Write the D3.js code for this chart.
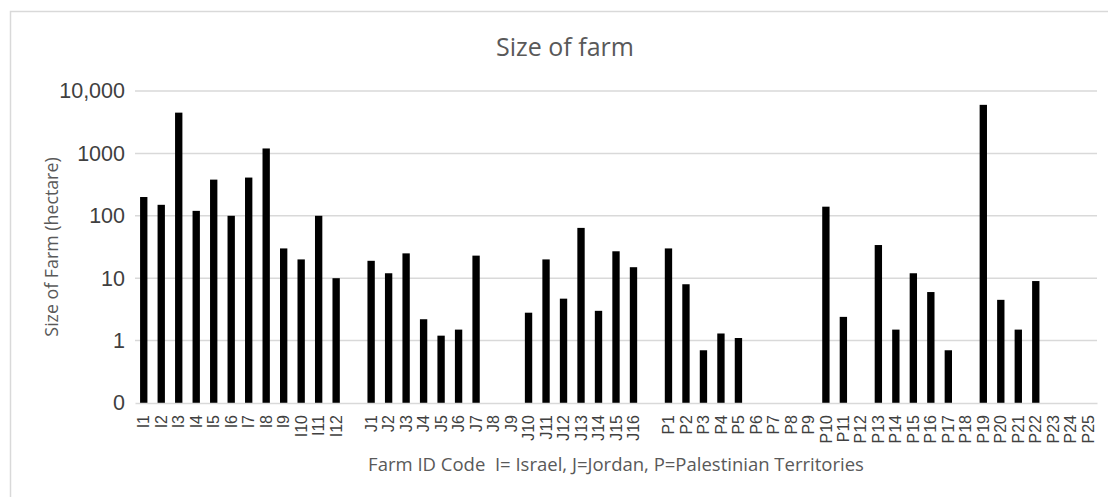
<!DOCTYPE html>
<html>
<head>
<meta charset="utf-8">
<script src="https://cdn.jsdelivr.net/npm/d3@7"></script>
<style>
  html, body { margin: 0; padding: 0; background: #fff; }
  svg { display: block; font-family: "Open Sans", "Noto Sans", sans-serif; }
</style>
</head>
<body>
<svg id="chart" width="1108" height="497"></svg>
<script>
// Farm IDs by country
const israelIds = ["I1","I2","I3","I4","I5","I6","I7","I8","I9","I10","I11","I12"];
const jordanIds = ["J1","J2","J3","J4","J5","J6","J7","J8","J9","J10","J11","J12","J13","J14","J15","J16"];
const palestineIds = ["P1","P2","P3","P4","P5","P6","P7","P8","P9","P10","P11","P12","P13","P14","P15","P16","P17","P18","P19","P20","P21","P22","P23","P24","P25"];

// Farm size in hectares (null = no value)
const israelSize = [200, 150, 4500, 120, 380, 100, 410, 1200, 30, 20, 100, 10];
const jordanSize = [19, 12, 25, 2.2, 1.2, 1.5, 23, null, null, 2.8, 20, 4.7, 64, 3, 27, 15];
const palestineSize = [30, 8, 0.7, 1.3, 1.1, null, null, null, null, 140, 2.4, null, 34, 1.5, 12, 6, 0.7, null, 6000, 4.5, 1.5, 9, null, null, null];

// Log axis ticks and their printed labels
const yTickValues = [0.1, 1, 10, 100, 1000, 10000];
const yTickLabels = ["0", "1", "10", "100", "1000", "10,000"];

const chartTitle = "Size of farm";
const xTitle = "Farm ID Code  I= Israel, J=Jordan, P=Palestinian Territories";
const yTitle = "Size of Farm (hectare)";

// Empty slots separate the country groups on the axis
const gapA = "__gapA", gapB = "__gapB";
const domain = [...israelIds, gapA, ...jordanIds, gapB, ...palestineIds];
const records = [
  ...israelIds.map((id, i) => ({ id, v: israelSize[i] })),
  ...jordanIds.map((id, i) => ({ id, v: jordanSize[i] })),
  ...palestineIds.map((id, i) => ({ id, v: palestineSize[i] }))
].filter(d => d.v != null);

const svg = d3.select("#chart");
const plot = { left: 135, right: 1097, top: 91, bottom: 403 };

// Chart frame
svg.append("rect")
  .attr("x", 10.5).attr("y", 11.5)
  .attr("width", 1200).attr("height", 600)
  .attr("fill", "none").attr("stroke", "#d9d9d9").attr("stroke-width", 1.5);

const x = d3.scaleBand().domain(domain).range([plot.left, plot.right]).paddingInner(0.58).paddingOuter(0.29);
const y = d3.scaleLog().domain([0.1, 10000]).range([plot.bottom, plot.top]);

// Gridlines
svg.append("g")
  .selectAll("line").data(yTickValues.slice(1)).join("line")
  .attr("x1", plot.left).attr("x2", plot.right)
  .attr("y1", d => y(d)).attr("y2", d => y(d))
  .attr("stroke", "#d9d9d9").attr("stroke-width", 1.5);

// Bars
svg.append("g")
  .selectAll("rect").data(records).join("rect")
  .attr("x", d => x(d.id))
  .attr("width", x.bandwidth())
  .attr("y", d => y(d.v))
  .attr("height", d => y(0.1) - y(d.v))
  .attr("fill", "#000");

// Category axis
const xAxis = svg.append("g")
  .attr("transform", `translate(0,${plot.bottom})`)
  .call(d3.axisBottom(x).tickSize(0).tickFormat(d => d.startsWith("__") ? "" : d));
xAxis.select(".domain").attr("stroke", "#d9d9d9").attr("stroke-width", 1.5);
xAxis.selectAll("text")
  .attr("transform", "rotate(-90)")
  .attr("x", -12).attr("y", 0).attr("dy", "0.35em")
  .attr("text-anchor", "end")
  .attr("fill", "#404040")
  .style("font-size", "16px");

// Value axis
const yAxis = svg.append("g")
  .attr("transform", `translate(${plot.left},0)`)
  .call(d3.axisLeft(y).tickValues(yTickValues).tickSize(0).tickPadding(10)
    .tickFormat((d, i) => yTickLabels[i]));
yAxis.select(".domain").remove();
yAxis.selectAll("text").attr("fill", "#404040").style("font-size", "21.5px");

// Titles
svg.append("text")
  .attr("x", 565).attr("y", 56)
  .attr("text-anchor", "middle")
  .attr("fill", "#595959").style("font-size", "25px")
  .text(chartTitle);

svg.append("text")
  .attr("x", (plot.left + plot.right) / 2).attr("y", 471)
  .attr("text-anchor", "middle")
  .attr("fill", "#595959").style("font-size", "18.5px")
  .style("white-space", "pre")
  .text(xTitle);

svg.append("text")
  .attr("transform", `translate(58,${(plot.top + plot.bottom) / 2}) rotate(-90)`)
  .attr("text-anchor", "middle")
  .attr("fill", "#595959").style("font-size", "17.8px")
  .text(yTitle);
</script>
</body>
</html>
